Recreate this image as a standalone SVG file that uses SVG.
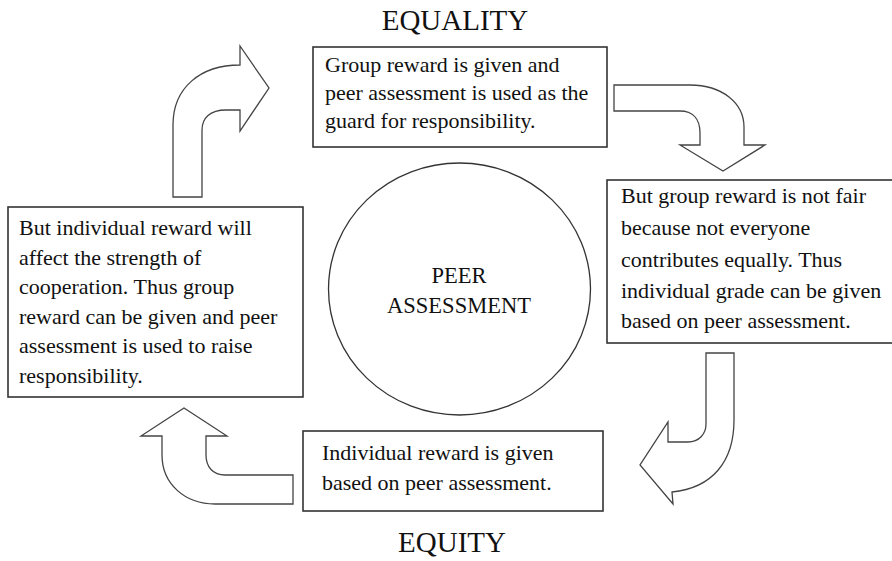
<svg xmlns="http://www.w3.org/2000/svg" width="892" height="561" viewBox="0 0 892 561">
<style>
  text { font-family: "Liberation Serif", "Times New Roman", serif; fill: #111; }
  .body { font-size: 22px; }
  .title { font-size: 29px; text-anchor: middle; }
  .center { font-size: 22.5px; text-anchor: middle; }
  .box { fill: #fff; stroke: #333; stroke-width: 1.6; }
  .arrow { fill: #fff; stroke: #444; stroke-width: 1.3; stroke-linejoin: miter; }
  .circ { fill: #fff; stroke: #333; stroke-width: 1.3; }
</style>
<rect width="892" height="561" fill="#fff"/>

<g id="label-equality"><text class="title" x="455" y="30">EQUALITY</text></g>
<g id="label-equity"><text class="title" x="452" y="552">EQUITY</text></g>

<g id="connectors">
  <path class="arrow" d="M173,197 L173,125 C173,88 200,65 240,65 L240,46 L269,88 L240,131 L240,110 L226,110 C210,110 202,118 202,130 L202,197 Z"/>
  <path class="arrow" d="M614,85 L690,85 C722,85 744,103 744,127 L744,145 L765,145 L723,171 L680,145 L700,145 L700,133 C700,118 692,111 680,111 L614,111 Z"/>
  <path class="arrow" d="M706,353 L734,353 L734,420 C734,462 712,488 672,492 L673,504 L640,465 L668,422 L668,442 L688,442 C699,442 706,434 706,424 Z"/>
  <path class="arrow" d="M293,475 L225,475 C213,475 206,467 206,455 L206,436 L227,436 L184,408 L141,436 L162,436 L162,455 C162,484 185,504 215,504 L293,504 Z"/>
</g>

<g id="node-group-reward">
  <rect class="box" x="313" y="47" width="294" height="100"/>
  <text class="body" x="325" y="72">Group reward is given and</text>
  <text class="body" x="325" y="100">peer assessment is used as the</text>
  <text class="body" x="325" y="128">guard for responsibility.</text>
</g>

<g id="node-not-fair">
  <rect class="box" x="607" y="180" width="292" height="163"/>
  <text class="body" x="621" y="203">But group reward is not fair</text>
  <text class="body" x="621" y="235">because not everyone</text>
  <text class="body" x="621" y="266.5">contributes equally. Thus</text>
  <text class="body" x="621" y="298">individual grade can be given</text>
  <text class="body" x="621" y="328">based on peer assessment.</text>
</g>

<g id="node-individual-reward">
  <rect class="box" x="303" y="431" width="300" height="80"/>
  <text class="body" x="322" y="460">Individual reward is given</text>
  <text class="body" x="322" y="490">based on peer assessment.</text>
</g>

<g id="node-cooperation">
  <rect class="box" x="8" y="207" width="295" height="190"/>
  <text class="body" x="19" y="235">But individual reward will</text>
  <text class="body" x="19" y="264.5">affect the strength of</text>
  <text class="body" x="19" y="294">cooperation. Thus group</text>
  <text class="body" x="19" y="323.5">reward can be given and peer</text>
  <text class="body" x="19" y="353">assessment is used to raise</text>
  <text class="body" x="19" y="382.5">responsibility.</text>
</g>

<g id="node-peer-assessment">
  <ellipse class="circ" cx="459.5" cy="289" rx="131" ry="126"/>
  <text class="center" x="459" y="283">PEER</text>
  <text class="center" x="459" y="313">ASSESSMENT</text>
</g>
</svg>
